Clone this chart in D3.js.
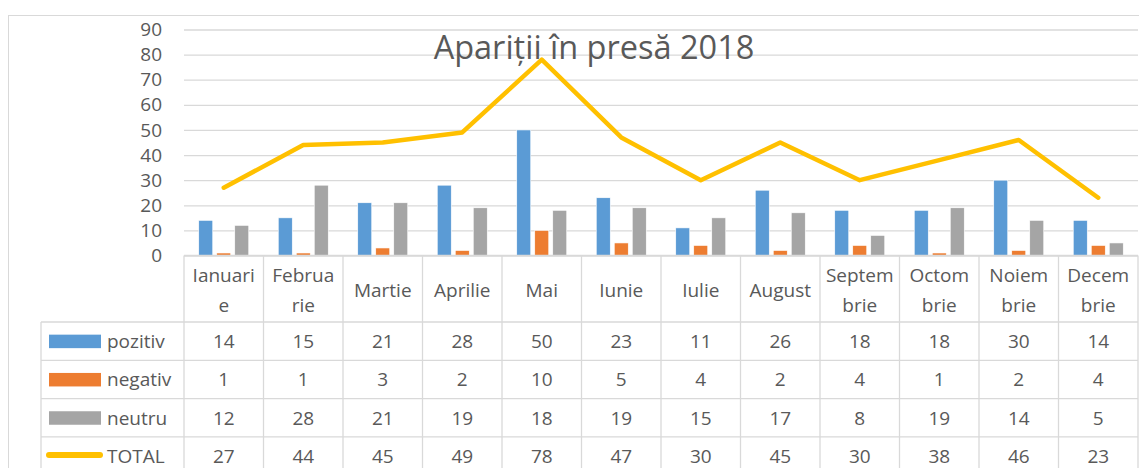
<!DOCTYPE html>
<html>
<head>
<meta charset="utf-8">
<script src="https://cdn.jsdelivr.net/npm/d3@7"></script>
<style>
  body { margin: 0; background: #fff; }
  text { font-family: "Open Sans", sans-serif; fill: #595959; }
</style>
</head>
<body>
<div id="chart"></div>
<script>
// data
var months = ["Ianuarie", "Februarie", "Martie", "Aprilie", "Mai", "Iunie",
              "Iulie", "August", "Septembrie", "Octombrie", "Noiembrie", "Decembrie"];
// month labels as they wrap in the table header
var monthLines = [["Ianuari", "e"], ["Februa", "rie"], ["Martie"], ["Aprilie"], ["Mai"], ["Iunie"],
                  ["Iulie"], ["August"], ["Septem", "brie"], ["Octom", "brie"], ["Noiem", "brie"], ["Decem", "brie"]];
var pozitiv = [14, 15, 21, 28, 50, 23, 11, 26, 18, 18, 30, 14];
var negativ = [1, 1, 3, 2, 10, 5, 4, 2, 4, 1, 2, 4];
var neutru  = [12, 28, 21, 19, 18, 19, 15, 17, 8, 19, 14, 5];
var total   = [27, 44, 45, 49, 78, 47, 30, 45, 30, 38, 46, 23];
var yTicks  = [0, 10, 20, 30, 40, 50, 60, 70, 80, 90];
var title   = "Apariții în presă 2018";

var barSeries = [
  {name: "pozitiv", values: pozitiv, color: "#5B9BD5"},
  {name: "negativ", values: negativ, color: "#ED7D31"},
  {name: "neutru",  values: neutru,  color: "#A5A5A5"}
];
var lineSeries = {name: "TOTAL", values: total, color: "#FFC000"};

var W = 1139, H = 468;
var plotLeft = 184, plotRight = 1138, plotTop = 29.5, plotBase = 255.5;
var legendLeft = 41;
var headerBottom = 322, rowH = 38.3;
var gridColor = "#d9d9d9";

var svg = d3.select("#chart").append("svg")
    .attr("width", W)
    .attr("height", H);

// outer chart border
svg.append("rect")
    .attr("x", 8.5).attr("y", 15.5)
    .attr("width", W + 20).attr("height", H + 20)
    .attr("fill", "none")
    .attr("stroke", gridColor);

var x0 = d3.scaleBand().domain(months).range([plotLeft, plotRight]).padding(0);
var x1 = d3.scaleBand().domain(barSeries.map(function(d) { return d.name; }))
    .range([0, 50]).paddingInner(0.222).paddingOuter(0);
var y = d3.scaleLinear().domain([0, 90]).range([plotBase, plotTop]);

// gridlines + y labels
var yAxis = svg.append("g")
    .attr("transform", "translate(" + plotLeft + ",0)")
    .call(d3.axisLeft(y).tickValues(yTicks).tickSize(-(plotRight - plotLeft)).tickPadding(22));
yAxis.select(".domain").remove();
yAxis.selectAll(".tick line").attr("stroke", gridColor).attr("stroke-width", 1.3);
yAxis.selectAll(".tick text")
    .attr("font-size", 19)
    .attr("font-family", "Open Sans")
    .attr("fill", "#595959");

// title
svg.append("text")
    .attr("x", 594).attr("y", 59)
    .attr("text-anchor", "middle")
    .attr("font-size", 32.5)
    .text(title);

// bars
var groups = svg.selectAll(".grp")
    .data(months)
    .enter().append("g")
    .attr("class", "grp")
    .attr("transform", function(d) { return "translate(" + (x0(d) + (x0.bandwidth() - 50) / 2) + ",0)"; });

groups.selectAll("rect")
    .data(function(m, i) { return barSeries.map(function(s) { return {name: s.name, v: s.values[i], color: s.color}; }); })
    .enter().append("rect")
    .attr("x", function(d) { return x1(d.name); })
    .attr("width", x1.bandwidth())
    .attr("y", function(d) { return y(d.v); })
    .attr("height", function(d) { return y(0) - y(d.v); })
    .attr("fill", function(d) { return d.color; })
    .attr("stroke", "#fff")
    .attr("stroke-width", 0.6);

// total line
var line = d3.line()
    .x(function(d, i) { return x0(months[i]) + x0.bandwidth() / 2; })
    .y(function(d) { return y(d); });

svg.append("path")
    .datum(total)
    .attr("fill", "none")
    .attr("stroke", lineSeries.color)
    .attr("stroke-width", 4.5)
    .attr("stroke-linejoin", "round")
    .attr("stroke-linecap", "round")
    .attr("d", line);

// data table
var rows = barSeries.concat([lineSeries]);
var tbl = svg.append("g").attr("stroke", gridColor).attr("stroke-width", 1.3);
var tableBottom = headerBottom + rowH * rows.length;

tbl.append("line").attr("x1", plotLeft).attr("x2", plotRight).attr("y1", plotBase).attr("y2", plotBase);
d3.range(rows.length + 1).forEach(function(i) {
  var yy = headerBottom + i * rowH;
  tbl.append("line").attr("x1", legendLeft).attr("x2", plotRight).attr("y1", yy).attr("y2", yy);
});
tbl.append("line").attr("x1", legendLeft).attr("x2", legendLeft).attr("y1", headerBottom).attr("y2", tableBottom);
months.forEach(function(m) {
  tbl.append("line").attr("x1", x0(m)).attr("x2", x0(m)).attr("y1", plotBase).attr("y2", tableBottom);
});
tbl.append("line").attr("x1", plotRight).attr("x2", plotRight).attr("y1", plotBase).attr("y2", tableBottom);

// header (month labels)
var hdr = svg.selectAll(".hdr")
    .data(monthLines)
    .enter().append("text")
    .attr("class", "hdr")
    .attr("text-anchor", "middle")
    .attr("font-size", 19)
    .attr("x", function(d, i) { return x0(months[i]) + x0.bandwidth() / 2; })
    .attr("y", function(d) { return d.length > 1 ? 282 : 297; });

hdr.selectAll("tspan")
    .data(function(d) { return d; })
    .enter().append("tspan")
    .attr("x", function() { return this.parentNode.getAttribute("x"); })
    .attr("dy", function(d, i) { return i === 0 ? 0 : 30; })
    .text(function(d) { return d; });

// value rows
rows.forEach(function(s, r) {
  var cy = headerBottom + r * rowH + rowH / 2;

  if (s.name === "TOTAL") {
    svg.append("line")
      .attr("x1", 49).attr("x2", 100)
      .attr("y1", cy - 1).attr("y2", cy - 1)
      .attr("stroke", s.color)
      .attr("stroke-width", 6)
      .attr("stroke-linecap", "round");
  } else {
    svg.append("rect")
      .attr("x", 49).attr("y", cy - 6.5)
      .attr("width", 52).attr("height", 13.5)
      .attr("fill", s.color);
  }
  svg.append("text")
    .attr("x", 107).attr("y", cy + 7)
    .attr("font-size", 19)
    .text(s.name);

  svg.selectAll(".v" + r)
    .data(s.values)
    .enter().append("text")
    .attr("class", "v" + r)
    .attr("text-anchor", "middle")
    .attr("font-size", 19)
    .attr("x", function(d, i) { return x0(months[i]) + x0.bandwidth() / 2; })
    .attr("y", cy + 7)
    .text(function(d) { return d; });
});
</script>
</body>
</html>
